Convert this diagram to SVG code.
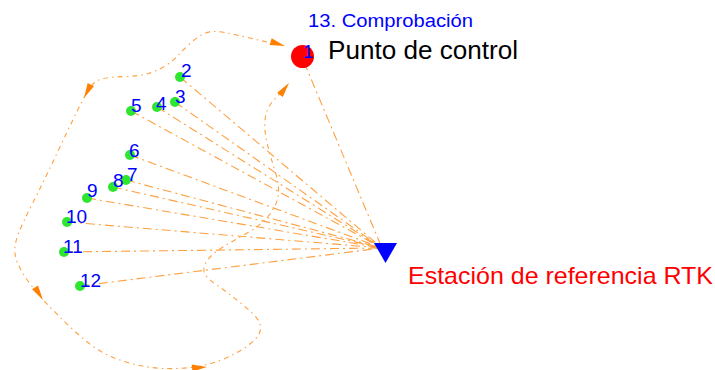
<svg xmlns="http://www.w3.org/2000/svg" xmlns:xlink="http://www.w3.org/1999/xlink" width="715" height="370" viewBox="0 0 715 370">
<style>
  .ray { fill: none; stroke: #FFA040; stroke-width: 1.1; stroke-dasharray: 9 4 2 4; }
  .route { fill: none; stroke: #FFA040; stroke-width: 1.1; stroke-dasharray: 5 4 1.5 4; }
  .pt { fill: #2EE62E; }
  .lbl { font-family: "Liberation Sans", Arial, sans-serif; font-size: 19px; fill: #0000FF; }
  .arrow { fill: #FF8000; }
</style>
<defs>
  <polygon id="ah" class="arrow" points="0,0 -15,-3.5 -15,3.5"/>
</defs>
<rect width="715" height="370" fill="#FFFFFF"/>
<g id="connectors">
  <line class="ray" x1="304" y1="62" x2="382" y2="248"/>
  <line class="ray" x1="180" y1="77" x2="382" y2="248"/>
  <line class="ray" x1="175" y1="102" x2="382" y2="248"/>
  <line class="ray" x1="157" y1="107" x2="382" y2="248"/>
  <line class="ray" x1="131" y1="111" x2="382" y2="248"/>
  <line class="ray" x1="130" y1="155" x2="382" y2="248"/>
  <line class="ray" x1="126" y1="180" x2="382" y2="248"/>
  <line class="ray" x1="113" y1="187" x2="382" y2="248"/>
  <line class="ray" x1="87" y1="198" x2="382" y2="248"/>
  <line class="ray" x1="67" y1="222" x2="382" y2="248"/>
  <line class="ray" x1="64" y1="252" x2="382" y2="248"/>
  <line class="ray" x1="80" y1="286" x2="382" y2="248"/>
  <path class="route" d="M 267,42 L 252,38.5 Q 237,35 224.5,32.5 Q 212,30 204.5,33.5 Q 197,37 190,43.5 Q 183,50 178,55.5 Q 173,61 165,66 Q 157,71 148.5,73.5 Q 140,76 125,76.5 Q 110,77 103.5,78.5 Q 97,80 93,84 Q 89,88 82,101.5 Q 75,115 59,149 Q 43,183 33,202.5 Q 23,222 18.5,233.5 Q 14,245 15,253.5 Q 16,262 23,273.5 Q 30,285 43.5,300 Q 57,315 75,331.5 Q 93,348 106.5,354.5 Q 120,361 135,364.5 Q 150,368 165,368.5 Q 180,369 195,367 Q 210,365 225,358.5 Q 240,352 250,344 Q 260,336 260.5,329 Q 261,322 254,315 Q 247,308 237,300 Q 227,292 216,284.5 Q 205,277 204,271.5 Q 203,266 208,259.5 Q 213,253 223,247 Q 233,241 246.5,233.5 Q 260,226 268,216.5 Q 276,207 278,197 Q 280,187 275,171 Q 270,155 267,142.5 Q 264,130 265,120 Q 266,110 271,103.5 Q 276,97 281,93"/>
  <use xlink:href="#ah" transform="translate(285,46) rotate(17)"/>
  <use xlink:href="#ah" transform="translate(84,98) rotate(117)"/>
  <use xlink:href="#ah" transform="translate(43,300) rotate(58)"/>
  <use xlink:href="#ah" transform="translate(207,367) rotate(-4)"/>
  <use xlink:href="#ah" transform="translate(289,83) rotate(-53)"/>
</g>
<g id="node-1">
  <circle cx="302.5" cy="56.5" r="11.5" fill="#FF0000"/>
  <text class="lbl" x="303" y="58">1</text>
  <text x="328" y="59" font-family="'Liberation Sans', Arial, sans-serif" font-size="26" fill="#000000" textLength="190" lengthAdjust="spacingAndGlyphs">Punto de control</text>
</g>
<g id="title">
  <text x="308" y="27" font-family="'Liberation Sans', Arial, sans-serif" font-size="18" fill="#0000FF" textLength="165" lengthAdjust="spacingAndGlyphs">13. Comprobación</text>
</g>
<g id="node-2"><circle class="pt" cx="180" cy="77" r="5"/><text class="lbl" x="181" y="77">2</text></g>
<g id="node-3"><circle class="pt" cx="175" cy="102" r="5"/><text class="lbl" x="175" y="103">3</text></g>
<g id="node-4"><circle class="pt" cx="157" cy="107" r="5"/><text class="lbl" x="156" y="110">4</text></g>
<g id="node-5"><circle class="pt" cx="131" cy="111" r="5"/><text class="lbl" x="131" y="112">5</text></g>
<g id="node-6"><circle class="pt" cx="130" cy="155" r="5"/><text class="lbl" x="129" y="157">6</text></g>
<g id="node-7"><circle class="pt" cx="126" cy="180" r="5"/><text class="lbl" x="127" y="181">7</text></g>
<g id="node-8"><circle class="pt" cx="113" cy="187" r="5"/><text class="lbl" x="113" y="187">8</text></g>
<g id="node-9"><circle class="pt" cx="87" cy="198" r="5"/><text class="lbl" x="87" y="197">9</text></g>
<g id="node-10"><circle class="pt" cx="67" cy="222" r="5"/><text class="lbl" x="66" y="223">10</text></g>
<g id="node-11"><circle class="pt" cx="64" cy="252" r="5"/><text class="lbl" x="63" y="253">11</text></g>
<g id="node-12"><circle class="pt" cx="80" cy="286" r="5"/><text class="lbl" x="80" y="287">12</text></g>
<g id="station">
  <polygon points="374,243 397,243 385.5,263" fill="#0000FF"/>
  <text x="408" y="284" font-family="'Liberation Sans', Arial, sans-serif" font-size="24" fill="#FF0000" textLength="305" lengthAdjust="spacingAndGlyphs">Estación de referencia RTK</text>
</g>
</svg>
